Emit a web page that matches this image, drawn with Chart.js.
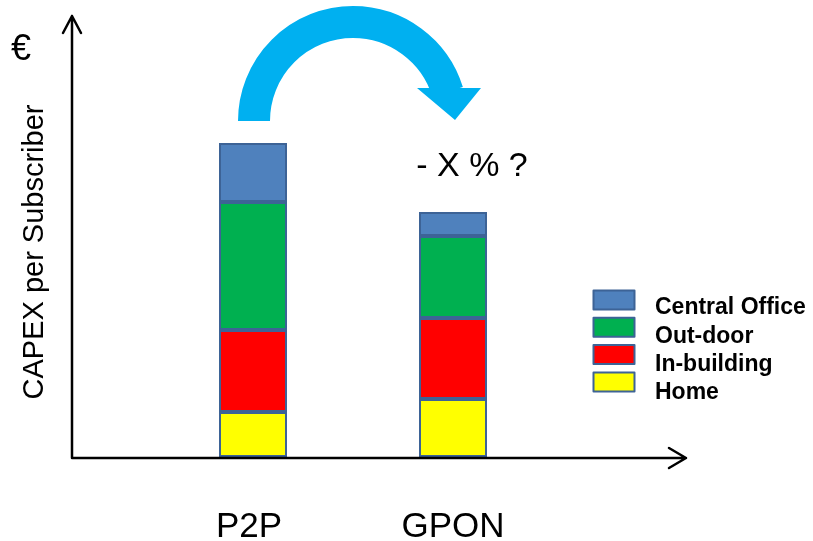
<!DOCTYPE html>
<html>
<head>
<meta charset="utf-8">
<script src="https://cdn.jsdelivr.net/npm/chart.js@4.4.1/dist/chart.umd.min.js"></script>
<style>
  html, body { margin: 0; padding: 0; background: #ffffff; }
  #wrap { width: 813px; height: 541px; position: relative; }
</style>
</head>
<body>
<div id="wrap"><canvas id="capexChart"></canvas></div>
<script>
// categories and stacked values (arbitrary CAPEX units)
const categories = ['P2P', 'GPON'];
const home = [45, 58];
const inBuilding = [82, 81];
const outDoor = [128, 82];
const centralOffice = [59, 24];
const seriesNames = ['Home', 'In-building', 'Out-door', 'Central Office'];
const seriesColors = ['#ffff00', '#ff0000', '#00b050', '#4f81bd'];
const edgeColor = '#3d6396';

const FONT = '"Liberation Sans", Arial, sans-serif';

// axes with arrow heads, labels, the curved arrow and the legend box
const decorations = {
    id: 'decorations',
    afterDraw(chart) {
        const ctx = chart.ctx;
        const x = chart.scales.x;
        const y = chart.scales.y;
        const base = y.getPixelForValue(0);
        ctx.save();

        // axes
        ctx.strokeStyle = '#000';
        ctx.lineWidth = 2.5;
        ctx.lineCap = 'round';
        ctx.lineJoin = 'round';
        ctx.beginPath();
        ctx.moveTo(72, base + 1);
        ctx.lineTo(72, 16);
        ctx.moveTo(63, 33);
        ctx.lineTo(72, 16);
        ctx.lineTo(81, 33);
        ctx.moveTo(72, base + 1);
        ctx.lineTo(686, base + 1);
        ctx.moveTo(669, base - 9);
        ctx.lineTo(686, base + 1);
        ctx.lineTo(669, base + 11);
        ctx.stroke();

        // category labels
        ctx.fillStyle = '#000';
        ctx.textAlign = 'center';
        ctx.textBaseline = 'alphabetic';
        ctx.font = '35px ' + FONT;
        categories.forEach((c, i) => {
            ctx.fillText(c, x.getPixelForValue(i) - (i === 0 ? 4 : 0), 537);
        });

        // y title and euro sign
        ctx.save();
        ctx.translate(43, 252);
        ctx.rotate(-Math.PI / 2);
        ctx.font = '29px ' + FONT;
        ctx.fillText('CAPEX per Subscriber', 0, 0);
        ctx.restore();
        ctx.font = '36px ' + FONT;
        ctx.fillText('€', 21, 60);

        // reduction annotation
        ctx.font = '34px ' + FONT;
        ctx.fillText('- X % ?', 472, 176);

        // curved arrow
        ctx.strokeStyle = '#00b0f0';
        ctx.fillStyle = '#00b0f0';
        ctx.lineWidth = 32;
        ctx.lineCap = 'butt';
        ctx.beginPath();
        ctx.arc(353, 121, 99, Math.PI, 2 * Math.PI - 0.30);
        ctx.stroke();
        ctx.beginPath();
        ctx.moveTo(417, 88);
        ctx.lineTo(481, 88);
        ctx.lineTo(455, 120);
        ctx.closePath();
        ctx.fill();

        // legend (top entry is the top of the stack)
        ctx.textAlign = 'left';
        ctx.textBaseline = 'middle';
        ctx.font = 'bold 23px ' + FONT;
        ctx.lineWidth = 2;
        const sets = chart.data.datasets.slice().reverse();
        sets.forEach((ds, i) => {
            const top = 290.5 + i * 27.3;
            ctx.fillStyle = ds.backgroundColor;
            ctx.fillRect(593.5, top, 41, 19);
            ctx.strokeStyle = edgeColor;
            ctx.strokeRect(593.5, top, 41, 19);
            ctx.fillStyle = '#000';
            ctx.fillText(ds.label, 655, 308 + i * 28.2);
        });
        ctx.restore();
    }
};

const seriesData = [home, inBuilding, outDoor, centralOffice];

new Chart(document.getElementById('capexChart'), {
    type: 'bar',
    data: {
        labels: categories,
        datasets: seriesData.map((d, i) => ({
            label: seriesNames[i],
            data: d,
            backgroundColor: seriesColors[i],
            borderColor: edgeColor,
            borderWidth: 2,
            borderSkipped: false,
            categoryPercentage: 1,
            barPercentage: 0.34
        }))
    },
    options: {
        responsive: true,
        maintainAspectRatio: false,
        animation: false,
        layout: { padding: { left: 153, right: 260, top: 17, bottom: 84 } },
        plugins: {
            legend: { display: false },
            tooltip: { enabled: false }
        },
        scales: {
            x: { stacked: true, display: false },
            y: { stacked: true, display: false, min: 0, max: 440 }
        }
    },
    plugins: [decorations]
});
</script>
</body>
</html>
